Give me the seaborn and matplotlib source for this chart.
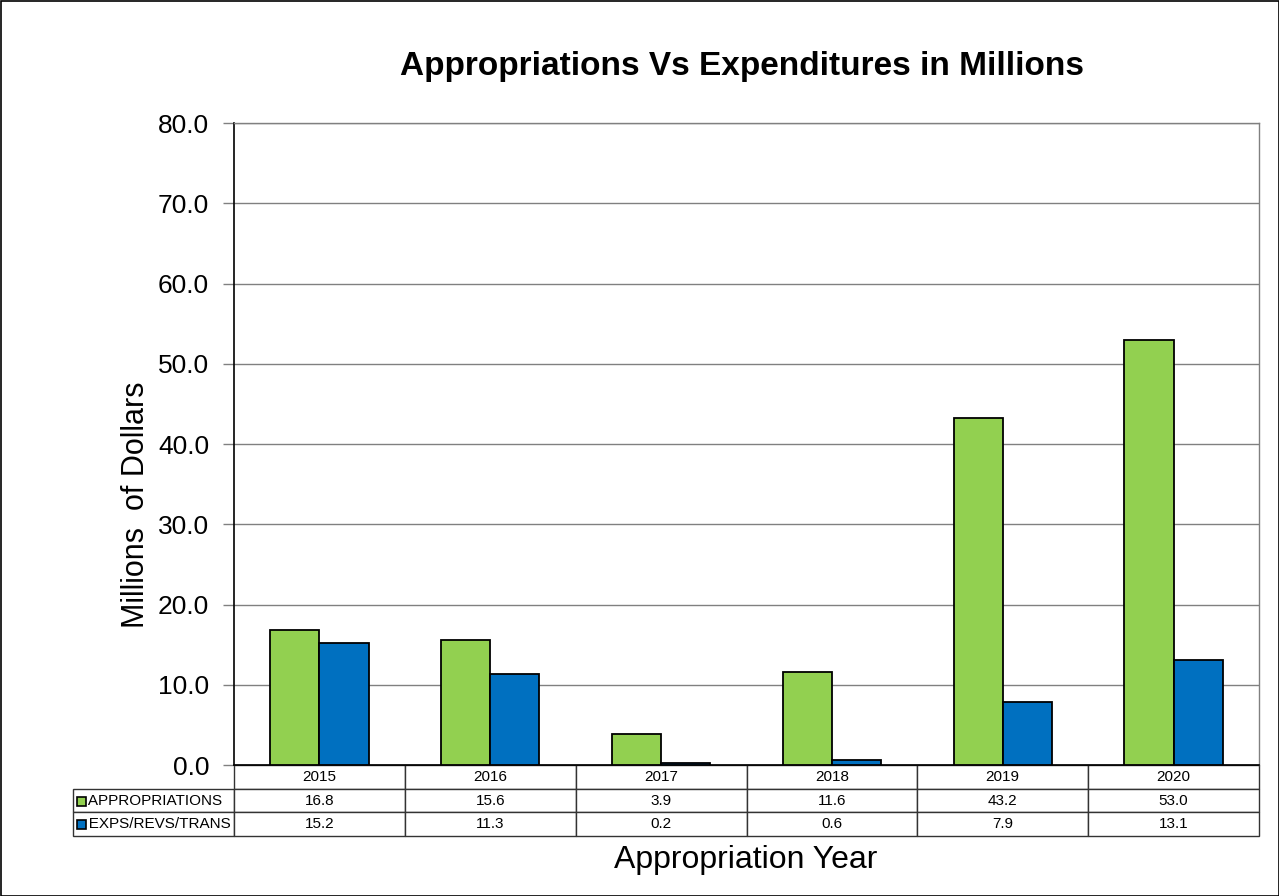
import pandas as pd
import seaborn as sns
import matplotlib.pyplot as plt
from matplotlib.patches import Rectangle

# chart data
years = ['2015', '2016', '2017', '2018', '2019', '2020']
appropriations = [16.8, 15.6, 3.9, 11.6, 43.2, 53.0]
expenditures = [15.2, 11.3, 0.2, 0.6, 7.9, 13.1]
series_names = ['APPROPRIATIONS', 'EXPS/REVS/TRANS']
colors = ['#92D050', '#0070C0']

sns.set_theme(style='white')
plt.rcParams['font.family'] = ['Liberation Sans', 'DejaVu Sans']
plt.rcParams['text.color'] = 'black'
plt.rcParams['axes.labelcolor'] = 'black'
plt.rcParams['ytick.labelcolor'] = 'black'

df = pd.DataFrame({
    'year': years * 2,
    'value': appropriations + expenditures,
    'series': [series_names[0]] * len(years) + [series_names[1]] * len(years),
})

W, H = 1279, 896
fig = plt.figure(figsize=(W / 100, H / 100), dpi=100)
# plot area in pixels: x 234..1259, y 123..765
ax = fig.add_axes([234 / W, 1 - 765 / H, (1259 - 234) / W, (765 - 123) / H])

sns.barplot(data=df, x='year', y='value', hue='series', palette=colors,
            width=0.575, edgecolor='black', linewidth=1.3, saturation=1,
            ax=ax, legend=False, zorder=3)

ax.set_ylim(0, 80)
ax.set_yticks(range(0, 81, 10))
ax.set_yticklabels([f'{v:.1f}' for v in range(0, 81, 10)], fontsize=19, color='black')
ax.tick_params(axis='y', length=8, width=1, color='#808080', pad=10, direction='out', left=True)
ax.set_xticks([])
ax.set_xlabel('')
ax.grid(axis='y', color='#808080', linewidth=1, zorder=0)
ax.set_axisbelow(True)
for side in ['top', 'right']:
    ax.spines[side].set_color('#808080')
    ax.spines[side].set_linewidth(1)
ax.spines['left'].set_color('black')
ax.spines['bottom'].set_color('black')
ax.spines['left'].set_linewidth(1.2)
ax.spines['bottom'].set_linewidth(1.2)

ax.set_ylabel('Millions  of Dollars', fontsize=22, color='black')
ax.yaxis.set_label_coords(-0.081, 0.405)

# data table under the chart (first column holds the series names)
tbl_left_px, tbl_right_px = 73, 1259
tbl_w_px = tbl_right_px - tbl_left_px
ax_w_px = 1259 - 234
ax_h_px = 765 - 123
tbl_h = (836 - 765) / ax_h_px
cell_text = [['   ' + series_names[0]] + [f'{v:.1f}' for v in appropriations],
             ['   ' + series_names[1]] + [f'{v:.1f}' for v in expenditures]]
col_w = (ax_w_px / len(years)) / tbl_w_px
row_w = (234 - tbl_left_px) / tbl_w_px
tbl = ax.table(cellText=cell_text, colLabels=[''] + years,
               colWidths=[row_w] + [col_w] * len(years),
               cellLoc='center',
               bbox=[(tbl_left_px - 234) / ax_w_px, -tbl_h, tbl_w_px / ax_w_px, tbl_h])
tbl.auto_set_font_size(False)
for (r, c), cell in tbl.get_celld().items():
    cell.set_edgecolor('#333333')
    cell.set_linewidth(1)
    cell.get_text().set_fontsize(11)
    cell.get_text().set_color('black')
    if c == 0:
        cell.get_text().set_ha('left')
        cell.PAD = 0.02
        cell._loc = 'left'
    if r == 0 and c == 0:
        cell.visible_edges = ''

# legend keys inside the row label cells
for i, col in enumerate(colors):
    y_top = 797 + i * 23
    fig.patches.append(Rectangle((77 / W, 1 - (y_top + 9) / H), 9 / W, 9 / H,
                                 facecolor=col, edgecolor='black', linewidth=1.2,
                                 transform=fig.transFigure, figure=fig))

fig.text(746 / W, 1 - 860 / H, 'Appropriation Year', fontsize=23, ha='center', va='center')
fig.text(742 / W, 1 - 66 / H, 'Appropriations Vs Expenditures in Millions',
         fontsize=24, fontweight='bold', ha='center', va='center')

# outer frame
fig.patches.append(Rectangle((0.5 / W, 0), 1 - 0.5 / W, 1 - 1.5 / H, fill=False,
                             edgecolor='black', linewidth=1.2,
                             transform=fig.transFigure, figure=fig))

fig.savefig('out.png', dpi=100)
